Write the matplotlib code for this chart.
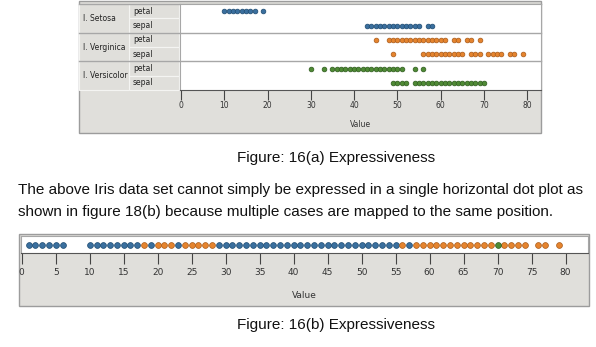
import matplotlib
matplotlib.use('Agg')
import matplotlib.pyplot as plt
from matplotlib.patches import Rectangle

W, H = 596, 347

# iris measurements (mm), one list per species / part
setosa_petal = [10, 11, 12, 13, 14, 15, 16, 17, 19]
setosa_sepal = [43, 44, 45, 46, 47, 48, 49, 50, 51, 52, 53, 54, 55, 57, 58]
verginica_petal = [45, 48, 49, 50, 51, 52, 53, 54, 55, 56, 57, 58, 59, 60, 61,
                   63, 64, 66, 67, 69]
verginica_sepal = [49, 56, 57, 58, 59, 60, 61, 62, 63, 64, 65, 67, 68, 69,
                   71, 72, 73, 74, 76, 77, 79]
versicolor_petal = [30, 33, 35, 36, 37, 38, 39, 40, 41, 42, 43, 44, 45, 46, 47,
                    48, 49, 50, 51, 54, 56]
versicolor_sepal = [49, 50, 51, 52, 54, 55, 56, 57, 58, 59, 60, 61, 62, 63, 64,
                    65, 66, 67, 68, 69, 70]

groups = ['I. Setosa', 'I. Verginica', 'I. Versicolor']
parts = ['petal', 'sepal']
rows = [setosa_petal, setosa_sepal, verginica_petal, verginica_sepal,
        versicolor_petal, versicolor_sepal]
row_species = [0, 0, 1, 1, 2, 2]

# all values on a single line, coloured by the species drawn last
all_values = [1, 2, 3, 4, 5, 6,
              10, 11, 12, 13, 14, 15, 16, 17, 18, 19, 20, 21, 22, 23, 24, 25,
              26, 27, 28, 29, 30, 31, 32, 33, 34, 35, 36, 37, 38, 39, 40, 41,
              42, 43, 44, 45, 46, 47, 48, 49, 50, 51, 52, 53, 54, 55, 56, 57,
              58, 59, 60, 61, 62, 63, 64, 65, 66, 67, 68, 69, 70, 71, 72, 73,
              74, 76, 77, 79]
all_species = [0, 0, 0, 0, 0, 0,
               0, 0, 0, 0, 0, 0, 0, 0, 1, 0, 1, 1, 1, 0, 1, 1,
               1, 1, 1, 0, 0, 0, 0, 0, 0, 0, 0, 0, 0, 0, 0, 0,
               0, 0, 0, 0, 0, 0, 0, 0, 0, 0, 0, 0, 0, 0, 1, 0,
               1, 1, 1, 1, 1, 1, 1, 1, 1, 1, 1, 1, 2, 1, 1, 1,
               1, 1, 1, 1]

fill = ['#3a6f9e', '#e5842e', '#4f8a35']
edge = ['#1d4a70', '#a85a18', '#2d5a1c']

panel = '#e0dfdb'
line_c = '#a7a7a7'
small_font = ['Liberation Sans Narrow', 'DejaVu Sans']


def box(x0, y0, x1, y1):
    return [x0 / W, 1 - y1 / H, (x1 - x0) / W, (y1 - y0) / H]


fig = plt.figure(figsize=(W / 100, H / 100), dpi=100)
fig.patch.set_facecolor('white')

# background layer in pixel units
bg = fig.add_axes([0, 0, 1, 1])
bg.set_xlim(0, W)
bg.set_ylim(H, 0)
bg.axis('off')

# ---- top chart: panel and label cells
bg.add_patch(Rectangle((79, 1), 462, 132, fc=panel, ec='#9c9c9c', lw=1))
row_top, row_h = 4, (90 - 4) / 6
for i in range(6):
    y = row_top + i * row_h
    bg.add_patch(Rectangle((129, y), 50, row_h, fc=panel, ec='#f4f4f2', lw=0.8))
    bg.text(133, y + row_h / 2, parts[i % 2], fontsize=5.5, family=small_font,
            va='center', ha='left', color='#222222')
for g in range(3):
    y = row_top + 2 * g * row_h
    bg.add_patch(Rectangle((79, y), 50, 2 * row_h, fc=panel, ec='#f4f4f2', lw=0.8))
    bg.text(83, y + row_h, groups[g], fontsize=5.5, family=small_font,
            va='center', ha='left', color='#222222')
    bg.plot([79, 541], [y, y], color=line_c, lw=1)

# ---- bottom chart panel
bg.add_patch(Rectangle((19, 234), 570, 72, fc=panel, ec='#9c9c9c', lw=1))

# ---- document text
txt = dict(family=['Liberation Sans', 'DejaVu Sans'], color='#111111')
bg.text(336, 158, 'Figure: 16(a) Expressiveness', fontsize=11, va='center',
        ha='center', **txt)
bg.text(18, 190, 'The above Iris data set cannot simply be expressed in a single '
        'horizontal dot plot as', fontsize=11, va='center', **txt)
bg.text(18, 212, 'shown in figure 18(b) because multiple cases are mapped to the '
        'same position.', fontsize=11, va='center', **txt)
bg.text(336, 325, 'Figure: 16(b) Expressiveness', fontsize=11, va='center',
        ha='center', **txt)

# ---- top dot plot
ax = fig.add_axes(box(179.5, 4, 541, 90))
ax.set_facecolor('white')
for i, vals in enumerate(rows):
    s = row_species[i]
    ax.plot(vals, [i] * len(vals), 'o', ms=3.4, mfc=fill[s], mec=edge[s],
            mew=0.5, ls='none')
for y in [1.5, 3.5]:
    ax.axhline(y, color=line_c, lw=1)
ax.set_xlim(-0.35, 83.2)
ax.set_ylim(5.5, -0.5)
ax.set_yticks([])
ax.set_xticks(range(0, 81, 10))
ax.tick_params(axis='x', length=7, width=0.8, color='#444444', pad=1,
               labelsize=5.5, labelcolor='#333333')
for lab in ax.get_xticklabels():
    lab.set_family(small_font)
for side in ['top', 'right', 'left']:
    ax.spines[side].set_color(line_c)
ax.spines['bottom'].set_color('#555555')
ax.set_xlabel('Value', fontsize=5.5, family=small_font, color='#333333',
              labelpad=7)

# ---- single-line dot plot
ax2 = fig.add_axes(box(20.5, 236, 588, 253))
ax2.set_facecolor('white')
for s in range(3):
    xs = [v for v, c in zip(all_values, all_species) if c == s]
    ax2.plot(xs, [0] * len(xs), 'o', ms=4.2, mfc=fill[s], mec=edge[s],
             mew=0.5, ls='none')
ax2.set_xlim(-0.18, 83.3)
ax2.set_ylim(-1, 1)
ax2.set_yticks([])
ax2.set_xticks(range(0, 81, 5))
ax2.tick_params(axis='x', length=8, width=0.8, color='#444444', pad=3,
                labelsize=6.5, labelcolor='#333333')
for lab in ax2.get_xticklabels():
    lab.set_family(small_font)
for side in ['top', 'right', 'left']:
    ax2.spines[side].set_color(line_c)
ax2.spines['bottom'].set_color('#555555')
ax2.set_xlabel('Value', fontsize=6.5, family=small_font, color='#333333',
               labelpad=10)

fig.savefig('out.png', dpi=100)
